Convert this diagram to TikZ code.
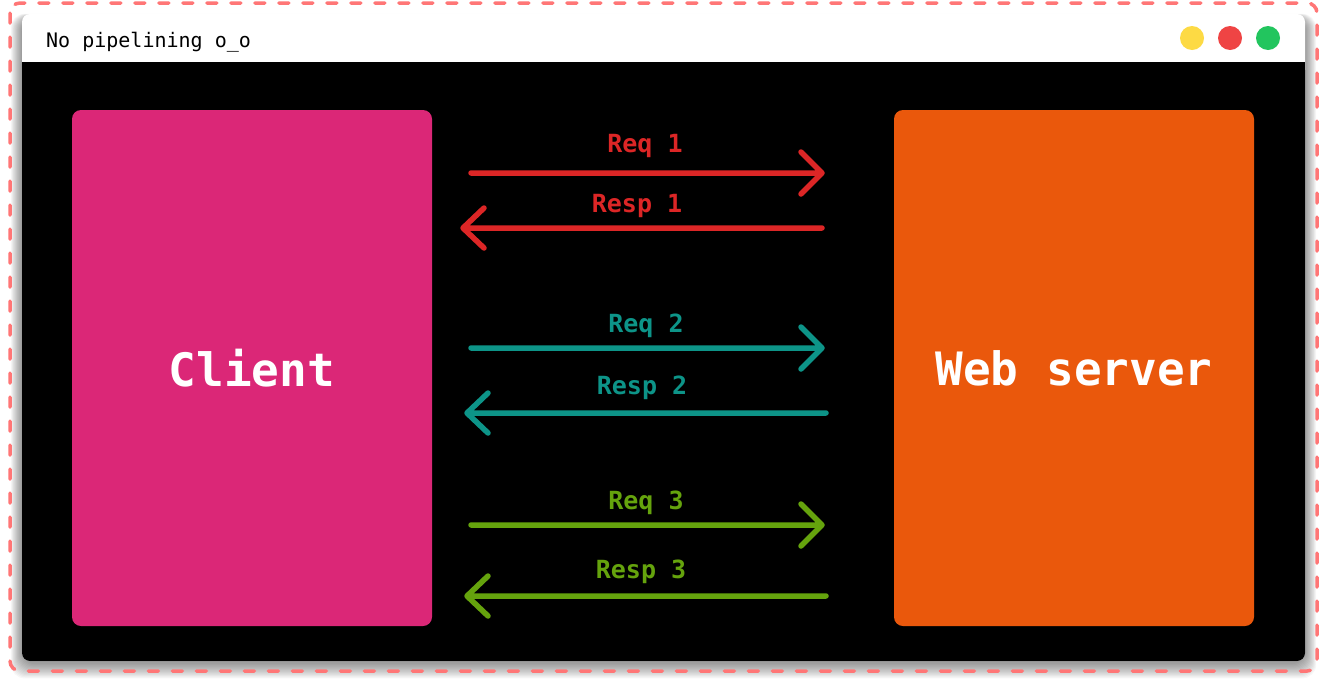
\documentclass[tikz,border=0pt]{standalone}
\usepackage{fontspec}
\newfontfamily\mono{DejaVu Sans Mono}
\definecolor{dashred}{HTML}{FF7676}
\definecolor{cpink}{HTML}{DB2777}
\definecolor{corange}{HTML}{EA580C}
\definecolor{cred}{HTML}{DC2626}
\definecolor{cteal}{HTML}{0D9488}
\definecolor{cgreen}{HTML}{65A30D}
\definecolor{dyellow}{HTML}{FDDA44}
\definecolor{dred}{HTML}{EF4444}
\definecolor{dgreen}{HTML}{22C55E}
\tikzset{
  box/.style={rounded corners=9pt, inner sep=0pt, text=white, font=\mono\bfseries\fontsize{46}{50}\selectfont},
  flow/.style={line width=5.5pt, line cap=round, line join=round},
  lbl/.style={font=\mono\bfseries\fontsize{25}{28}\selectfont, inner sep=0pt},
  dot/.style={circle, minimum size=24pt, inner sep=0pt},
}
\begin{document}
\begin{tikzpicture}[x=1pt,y=-1pt]
\useasboundingbox (0,0) rectangle (1327,691);
\fill[white] (0,0) rectangle (1327,691);
% shadow
\foreach \i in {1,...,14}{
  \fill[black, opacity=0.03, rounded corners=14pt] (22-\i*0.8,14-\i*0.3+4) rectangle (1305+\i*0.8,661+\i*1.1+2);
}
% window
\fill[white, rounded corners=8pt] (22,14) rectangle (1305,661);
\fill[black, rounded corners=8pt] (22,62) rectangle (1305,661);
\fill[black] (22,62) rectangle (1305,80);
\node[anchor=base west, inner sep=0pt, font=\mono\fontsize{20}{24}\selectfont] (title) at (46,47) {No pipelining o\_o};
\node[dot, fill=dyellow] (d1) at (1192,38) {};
\node[dot, fill=dred] (d2) at (1230,38) {};
\node[dot, fill=dgreen] (d3) at (1268,38) {};
% dashed frame
\draw[dashred, line width=3.5pt, dash pattern=on 10pt off 14pt, line cap=round, rounded corners=10pt] (10,3) rectangle (1317,671);
% boxes
\node[box, fill=cpink, minimum width=360pt, minimum height=516pt] (client) at (252,368) {Client};
\node[box, fill=corange, minimum width=360pt, minimum height=516pt] (server) at (1074,368) {Web server};
% arrow endpoints
\coordinate (a1s) at (471,173); \coordinate (a1e) at (822,173);
\coordinate (b1s) at (822,228); \coordinate (b1e) at (463,228);
\coordinate (a2s) at (471,348); \coordinate (a2e) at (822,348);
\coordinate (b2s) at (826,413); \coordinate (b2e) at (467,413);
\coordinate (a3s) at (471,525); \coordinate (a3e) at (822,525);
\coordinate (b3s) at (826,596); \coordinate (b3e) at (467,596);
\draw[flow, cred] (a1s) -- (a1e) ++(-21,-21) -- (a1e) -- ++(-21,21);
\draw[flow, cred] (b1s) -- (b1e) ++(21,-20) -- (b1e) -- ++(21,20);
\draw[flow, cteal] (a2s) -- (a2e) ++(-21,-21) -- (a2e) -- ++(-21,21);
\draw[flow, cteal] (b2s) -- (b2e) ++(21,-20) -- (b2e) -- ++(21,20);
\draw[flow, cgreen] (a3s) -- (a3e) ++(-21,-21) -- (a3e) -- ++(-21,21);
\draw[flow, cgreen] (b3s) -- (b3e) ++(21,-20) -- (b3e) -- ++(21,20);
\node[lbl, text=cred] (l1) at (645,146) {Req 1};
\node[lbl, text=cred] (m1) at (637,206) {Resp 1};
\node[lbl, text=cteal] (l2) at (646,326) {Req 2};
\node[lbl, text=cteal] (m2) at (642,388) {Resp 2};
\node[lbl, text=cgreen] (l3) at (646,503) {Req 3};
\node[lbl, text=cgreen] (m3) at (641,572) {Resp 3};
\end{tikzpicture}
\end{document}
